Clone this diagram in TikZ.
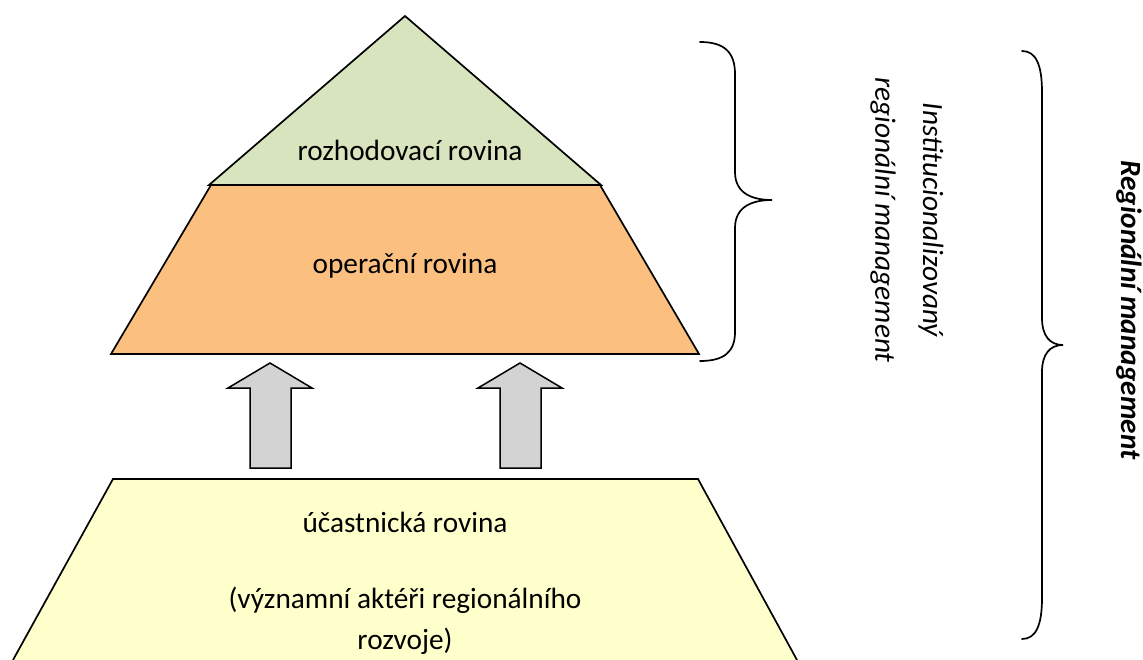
\documentclass[tikz,border=0pt]{standalone}
\usepackage{fontspec}
\setmainfont{Carlito}
\definecolor{topgreen}{HTML}{D7E4BD}
\definecolor{midorange}{HTML}{FBBF80}
\definecolor{lowyellow}{HTML}{FFFFCC}
\definecolor{arrgrey}{HTML}{D3D3D3}
\begin{document}
\begin{tikzpicture}[x=1pt,y=-1pt,
  outline/.style={draw=black,line width=1.7pt,line join=miter},
  lbl/.style={inner sep=0pt,font=\fontsize{29.3}{35}\selectfont},
  rlbl/.style={inner sep=0pt,rotate=-90,font=\fontsize{29.3}{35}\selectfont\itshape},
  brace/.style={draw=black,line width=1.7pt,line cap=round},
  blockarrow/.style={outline,fill=arrgrey,line width=1.5pt}]
\useasboundingbox (0,0) rectangle (1143,660);
% levels
\fill[midorange] (211,185) -- (600,185) -- (699,354) -- (111,354) -- cycle;
\draw[outline] (211,185) -- (600,185) -- (699,354) -- (111,354) -- cycle;
\draw[outline,fill=topgreen] (405,16) -- (601,185) -- (209,185) -- cycle;
\fill[lowyellow] (113,479) -- (698,479) -- (797,660) -- (13,660) -- cycle;
\draw[outline] (13,660) -- (113,479) -- (698,479) -- (797,660);
% block arrows
\draw[blockarrow] (270,363) -- (312,388) -- (291,388) -- (291,468) -- (250,468) -- (250,388) -- (228,388) -- cycle;
\draw[blockarrow] (520,363) -- (562,388) -- (541,388) -- (541,468) -- (500,468) -- (500,388) -- (478,388) -- cycle;
% labels
\node[lbl] (rozh) at (410,150) {rozhodovací rovina};
\node[lbl] (oper) at (405,266) {operační rovina};
\node[lbl] (ucast) at (405,522) {účastnická rovina};
\node[lbl] (vyzn) at (405,600) {(významní aktéři regionálního};
\node[lbl] (rozv) at (405,641) {rozvoje)};
% braces
\draw[brace] (700,42) .. controls (724,42) and (735,52) .. (735,74) -- (735,172) .. controls (735,192) and (750,200) .. (772,200) .. controls (750,200) and (735,208) .. (735,228) -- (735,332) .. controls (735,352) and (724,361) .. (700,361);
\draw[brace] (1022,51) .. controls (1036,51) and (1042,65) .. (1042,92) -- (1042,318) .. controls (1042,336) and (1050,345) .. (1063,345) .. controls (1050,345) and (1042,354) .. (1042,372) -- (1042,598) .. controls (1042,625) and (1036,639) .. (1022,639);
\node[rlbl] (inst1) at (931,220) {Institucionalizovaný};
\node[rlbl] (inst2) at (883,220) {regionální management};
\node[rlbl,font=\fontsize{29.3}{35}\selectfont\bfseries\itshape] (reg) at (1129,310) {Regionální management};
\end{tikzpicture}
\end{document}
